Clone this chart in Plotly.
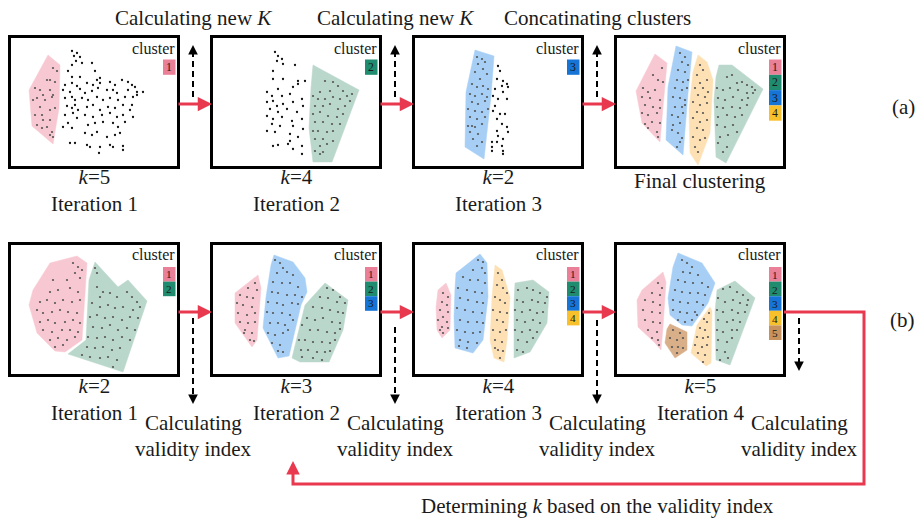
import plotly.graph_objects as go

W, H = 920, 521
SERIF = "Liberation Serif, Times New Roman, Times, DejaVu Serif, serif"

# ---------------- panel geometry (pixels) ----------------
COL_LEFT = [11, 213, 415, 617]
PANEL_W = 166
ROW_TOP = [38, 245]
ROW_H = [128, 129]

CLUSTER_FILL = {1: "#f8c8d2", 2: "#bad7cb", 3: "#a7cff6", 4: "#fde1b4", 5: "#d8af88"}
CLUSTER_KEY = {1: "#ea7f98", 2: "#1f8b6f", 3: "#1574d6", 4: "#f8c12c", 5: "#c8925c"}
RED = "#e8394f"
DOT = "#555555"

# ---------------- data (panel-local coordinates) ----------------
# Row (a), panel 1: k=5, iteration 1
R1P1_PINK_HULL = [(37, 17), (49, 27), (48, 70), (42, 106), (21, 88), (18, 52)]
R1P1_PINK_PTS = [(42, 30), (46, 33), (39, 42), (44, 44), (29, 52), (24, 50), (32, 57), (26, 60), (22, 62),
                 (34, 62), (41, 59), (29, 69), (39, 72), (44, 70), (24, 77), (31, 77), (32, 82), (26, 87),
                 (31, 90), (39, 82), (41, 94), (42, 99), (39, 97), (36, 89), (39, 52), (42, 57), (36, 42)]
R1P1_REST_PTS = [(61, 13), (66, 15), (69, 19), (63, 18), (65, 23), (71, 25), (81, 25), (61, 27), (57, 33),
                 (84, 33), (61, 39), (69, 39), (86, 42), (89, 40), (54, 47), (61, 45), (66, 48), (76, 45),
                 (82, 47), (89, 45), (99, 44), (104, 47), (111, 42), (117, 44), (121, 47), (124, 49),
                 (52, 52), (59, 54), (69, 51), (74, 55), (81, 53), (87, 50), (96, 52), (102, 52), (106, 55),
                 (117, 52), (126, 54), (132, 54), (54, 60), (61, 59), (64, 62), (71, 60), (77, 62), (86, 59),
                 (92, 62), (99, 60), (107, 62), (114, 59), (122, 59), (126, 57), (56, 68), (61, 70), (64, 67),
                 (67, 72), (76, 69), (82, 67), (89, 72), (97, 69), (104, 70), (112, 67), (119, 72), (121, 67),
                 (54, 77), (62, 75), (66, 80), (74, 77), (82, 79), (91, 77), (99, 75), (106, 79), (112, 77),
                 (122, 79), (52, 89), (57, 85), (61, 90), (77, 87), (84, 85), (92, 84), (102, 85), (107, 89),
                 (114, 84), (74, 95), (81, 97), (86, 94), (96, 99), (104, 97), (109, 95), (59, 105), (64, 105),
                 (76, 107), (79, 109), (89, 109), (99, 107), (102, 109), (112, 108), (112, 112), (88, 115)]

# Row (a), panel 2: k=4, iteration 2
R1P2_GREEN_HULL = [(100, 27), (146, 52), (119, 124), (100, 124), (96, 90), (98, 50)]
R1P2_GREEN_PTS = [(112, 43), (120, 44), (125, 48), (130, 53), (117, 53), (107, 54), (100, 58), (105, 61),
                  (112, 61), (120, 59), (127, 61), (134, 58), (139, 56), (102, 68), (110, 68), (117, 66),
                  (125, 71), (132, 68), (137, 63), (100, 76), (107, 74), (115, 78), (124, 79), (130, 76),
                  (102, 84), (110, 84), (119, 86), (127, 86), (105, 93), (114, 94), (120, 93), (102, 101),
                  (110, 101), (107, 108), (114, 106), (120, 103), (102, 113), (110, 114), (107, 116), (100, 93)]
R1P2_REST_PTS = [(62, 14), (65, 18), (69, 21), (64, 23), (70, 26), (82, 27), (60, 33), (85, 43), (60, 41),
                 (70, 41), (80, 49), (85, 46), (92, 43), (54, 54), (59, 58), (65, 51), (69, 58), (77, 56),
                 (89, 61), (54, 64), (60, 63), (64, 68), (70, 66), (80, 64), (90, 68), (57, 71), (65, 74),
                 (74, 71), (84, 74), (54, 78), (60, 81), (69, 79), (79, 83), (89, 81), (59, 86), (67, 88),
                 (80, 88), (90, 91), (54, 93), (62, 94), (77, 96), (85, 99), (77, 103), (60, 108), (65, 107),
                 (75, 106), (89, 108), (89, 116), (80, 111)]

# Row (a), panel 3: k=2, iteration 3
R1P3_BLUE_HULL = [(60, 12), (79, 18), (76, 58), (69, 121), (50, 109), (51, 54)]
R1P3_BLUE_PTS = [(62, 19), (67, 21), (70, 24), (63, 26), (68, 31), (60, 34), (72, 36), (65, 41), (57, 46),
                 (62, 49), (68, 48), (73, 51), (55, 56), (60, 58), (67, 56), (72, 59), (57, 64), (63, 66),
                 (70, 63), (53, 71), (60, 73), (67, 74), (73, 71), (55, 79), (62, 81), (70, 79), (53, 88),
                 (60, 89), (67, 86), (55, 94), (63, 96), (58, 101), (67, 104), (62, 108), (57, 88)]
R1P3_REST_PTS = [(83, 28), (85, 33), (82, 41), (88, 43), (92, 46), (93, 49), (87, 48), (80, 51), (88, 54),
                 (78, 58), (83, 61), (92, 61), (80, 68), (78, 73), (85, 76), (90, 76), (82, 81), (87, 86),
                 (82, 93), (92, 89), (93, 94), (83, 98), (77, 104), (82, 104), (88, 101), (77, 109),
                 (87, 108), (88, 113), (77, 113), (88, 116)]

# Row (a), panel 4: final clustering
R1P4_PINK_HULL = [(38, 16), (50, 25), (46, 69), (43, 104), (25, 85), (19, 53)]
R1P4_PINK_PTS = [(45, 30), (41, 42), (46, 44), (26, 50), (31, 54), (38, 52), (25, 59), (33, 60), (43, 62),
                 (28, 67), (36, 69), (43, 70), (25, 75), (31, 77), (40, 75), (28, 86), (35, 84), (43, 85),
                 (31, 90), (40, 94), (41, 99), (36, 37)]
R1P4_BLUE_HULL = [(59, 8), (75, 14), (71, 55), (66, 117), (49, 102), (51, 49)]
R1P4_BLUE_PTS = [(63, 15), (68, 19), (65, 24), (71, 27), (61, 32), (68, 34), (60, 42), (66, 44), (71, 42),
                 (58, 50), (65, 52), (70, 50), (56, 59), (63, 60), (68, 62), (58, 69), (65, 69), (68, 67),
                 (55, 77), (61, 79), (66, 75), (56, 87), (63, 85), (55, 92), (61, 95), (63, 104), (60, 109),
                 (65, 100)]
R1P4_YELLOW_HULL = [(81, 17), (90, 24), (96, 42), (93, 95), (81, 127), (73, 115), (72, 72), (76, 34)]
R1P4_YELLOW_PTS = [(83, 27), (86, 32), (80, 37), (90, 42), (83, 45), (78, 50), (86, 50), (91, 54), (81, 57),
                   (88, 59), (76, 64), (83, 67), (90, 65), (80, 74), (86, 75), (76, 80), (83, 84), (90, 82),
                   (80, 90), (86, 92), (76, 99), (83, 102), (78, 109), (81, 114), (88, 100)]
R1P4_GREEN_HULL = [(102, 27), (115, 27), (146, 51), (109, 125), (99, 119), (97, 62), (99, 39)]
R1P4_GREEN_PTS = [(110, 39), (115, 37), (120, 45), (125, 44), (130, 47), (135, 49), (138, 52), (100, 50),
                  (106, 52), (113, 50), (121, 52), (130, 55), (136, 55), (101, 60), (108, 62), (116, 59),
                  (125, 62), (131, 60), (100, 69), (106, 70), (115, 69), (123, 70), (130, 67), (101, 79),
                  (110, 77), (118, 79), (125, 77), (100, 87), (108, 89), (116, 87), (103, 99), (111, 97),
                  (120, 94), (101, 105), (110, 109), (106, 114)]

# Row (b), panel 1: k=2
R2P1_PINK_HULL = [(39, 18), (66, 11), (76, 18), (74, 52), (71, 95), (54, 107), (44, 106), (26, 88), (18, 60),
                  (22, 45)]
R2P1_PINK_PTS = [(62, 18), (67, 22), (71, 25), (64, 28), (42, 35), (56, 35), (69, 33), (39, 47), (47, 45),
                 (59, 43), (67, 47), (29, 57), (36, 55), (44, 58), (52, 55), (61, 57), (69, 55), (26, 65),
                 (32, 68), (41, 67), (49, 65), (57, 67), (66, 68), (29, 77), (37, 75), (44, 78), (54, 77),
                 (62, 75), (69, 78), (32, 85), (41, 87), (51, 85), (59, 85), (67, 87), (39, 95), (47, 93),
                 (56, 95), (64, 92), (44, 102), (52, 100)]
R2P1_GREEN_HULL = [(84, 17), (107, 42), (117, 35), (136, 56), (112, 127), (57, 109), (75, 95), (78, 35)]
R2P1_GREEN_PTS = [(86, 42), (92, 47), (89, 52), (99, 48), (106, 52), (116, 47), (121, 52), (126, 57), (81, 58),
                  (89, 62), (97, 60), (104, 63), (112, 62), (122, 65), (129, 62), (79, 72), (86, 70), (94, 73),
                  (102, 72), (111, 75), (119, 72), (127, 73), (82, 82), (91, 83), (99, 80), (107, 85),
                  (116, 83), (124, 85), (77, 92), (86, 93), (94, 92), (102, 95), (111, 92), (119, 95),
                  (76, 102), (84, 103), (92, 102), (101, 105), (109, 103), (71, 110), (79, 112), (89, 113),
                  (97, 112), (106, 115), (102, 122), (86, 28), (84, 23)]

# Row (b), panel 2: k=3
R2P2_PINK_HULL = [(22, 48), (45, 30), (48, 43), (44, 95), (39, 102), (22, 78)]
R2P2_PINK_PTS = [(42, 38), (44, 45), (35, 43), (27, 50), (34, 52), (40, 53), (24, 58), (30, 60), (39, 62),
                 (25, 68), (34, 70), (42, 68), (27, 77), (35, 78), (42, 77), (32, 85), (39, 88), (37, 95),
                 (41, 96), (31, 88)]
R2P2_BLUE_HULL = [(61, 10), (80, 17), (92, 33), (94, 47), (88, 60), (76, 111), (65, 113), (50, 83), (53, 52),
                  (58, 20)]
R2P2_BLUE_PTS = [(62, 15), (67, 18), (70, 23), (64, 28), (74, 27), (80, 30), (60, 37), (69, 38), (77, 38),
                 (85, 42), (59, 47), (65, 48), (74, 50), (82, 50), (89, 52), (55, 57), (64, 58), (70, 60),
                 (79, 58), (85, 59), (54, 67), (60, 68), (69, 68), (77, 70), (57, 78), (65, 78), (72, 80),
                 (80, 75), (55, 88), (62, 90), (70, 88), (75, 85), (59, 98), (67, 100), (65, 106), (70, 107)]
R2P2_GREEN_HULL = [(112, 38), (135, 55), (130, 85), (116, 117), (87, 117), (79, 113), (92, 60)]
R2P2_GREEN_PTS = [(114, 43), (120, 45), (127, 52), (107, 52), (115, 53), (124, 57), (132, 58), (100, 62),
                  (109, 63), (117, 65), (125, 67), (130, 68), (94, 73), (102, 75), (110, 73), (119, 77),
                  (127, 78), (97, 85), (105, 85), (114, 87), (122, 88), (127, 84), (92, 95), (100, 97),
                  (109, 97), (117, 98), (122, 95), (95, 105), (104, 107), (112, 107), (117, 106), (100, 113),
                  (109, 115), (89, 112), (86, 95), (89, 80), (88, 105)]

# Row (b), panel 3: k=4
R2P3_PINK_HULL = [(31, 38), (36, 50), (35, 85), (27, 93), (22, 85), (21, 62), (23, 45)]
R2P3_PINK_PTS = [(28, 48), (33, 52), (27, 57), (32, 60), (25, 65), (33, 67), (28, 72), (23, 75), (32, 77),
                 (27, 82), (33, 83), (28, 88), (25, 85)]
R2P3_BLUE_HULL = [(41, 28), (65, 9), (72, 18), (73, 52), (68, 95), (58, 108), (40, 103), (39, 72), (40, 43)]
R2P3_BLUE_PTS = [(63, 15), (68, 17), (67, 23), (58, 25), (70, 28), (48, 32), (55, 35), (63, 35), (70, 38),
                 (43, 43), (52, 45), (60, 47), (67, 48), (45, 53), (53, 55), (62, 57), (68, 58), (42, 63),
                 (50, 65), (58, 67), (67, 68), (45, 75), (53, 77), (62, 77), (68, 78), (42, 85), (50, 87),
                 (58, 88), (65, 87), (45, 95), (53, 97), (62, 98), (44, 101), (52, 103)]
R2P3_YELLOW_HULL = [(80, 20), (87, 25), (95, 52), (92, 95), (89, 117), (79, 113), (75, 95), (77, 52)]
R2P3_YELLOW_PTS = [(83, 28), (87, 35), (82, 40), (88, 43), (92, 48), (80, 52), (85, 55), (90, 58), (78, 65),
                   (85, 67), (92, 68), (82, 75), (88, 77), (78, 85), (85, 87), (91, 85), (80, 95), (87, 97),
                   (83, 105), (88, 106), (85, 113), (80, 103)]
R2P3_GREEN_HULL = [(100, 38), (118, 35), (134, 47), (132, 78), (115, 107), (99, 113), (99, 58)]
R2P3_GREEN_PTS = [(103, 45), (112, 43), (118, 45), (125, 48), (132, 52), (102, 55), (108, 57), (117, 55),
                  (123, 57), (130, 58), (100, 65), (107, 67), (115, 65), (122, 68), (128, 67), (102, 75),
                  (110, 77), (118, 75), (125, 78), (100, 85), (107, 87), (115, 85), (122, 87), (103, 95),
                  (112, 97), (118, 93), (102, 105), (108, 107)]

# Row (b), panel 4: k=5
R2P4_PINK_HULL = [(46, 27), (49, 37), (46, 82), (44, 105), (38, 98), (21, 82), (20, 55), (25, 45)]
R2P4_PINK_PTS = [(41, 38), (45, 43), (35, 48), (43, 50), (28, 55), (36, 57), (43, 60), (26, 65), (35, 67),
                 (43, 68), (28, 75), (36, 77), (43, 78), (31, 85), (40, 87), (35, 93), (41, 95), (42, 100)]
R2P4_BLUE_HULL = [(61, 8), (85, 18), (98, 38), (91, 58), (75, 81), (65, 80), (53, 70), (51, 53), (56, 22)]
R2P4_BLUE_PTS = [(65, 15), (70, 18), (75, 22), (66, 27), (73, 28), (81, 30), (61, 35), (68, 37), (76, 38),
                 (85, 38), (91, 42), (58, 45), (65, 47), (73, 48), (81, 48), (88, 50), (56, 55), (63, 57),
                 (71, 58), (80, 57), (86, 60), (56, 65), (63, 67), (70, 68), (78, 67), (80, 70), (61, 75),
                 (68, 77), (75, 75)]
R2P4_BROWN_HULL = [(53, 79), (64, 84), (70, 87), (70, 105), (58, 113), (48, 98), (50, 84)]
R2P4_BROWN_PTS = [(56, 85), (63, 88), (53, 93), (60, 95), (66, 93), (55, 102), (61, 102), (66, 103), (60, 108)]
R2P4_YELLOW_HULL = [(93, 62), (95, 66), (94, 118), (89, 121), (74, 108), (80, 80)]
R2P4_YELLOW_PTS = [(92, 68), (87, 74), (90, 77), (83, 83), (88, 85), (80, 92), (86, 93), (91, 92), (78, 100),
                   (85, 102), (90, 100), (81, 108), (88, 110), (86, 117)]
R2P4_GREEN_HULL = [(100, 45), (118, 36), (138, 53), (113, 120), (99, 115), (98, 67)]
R2P4_GREEN_PTS = [(106, 44), (113, 42), (120, 47), (126, 50), (131, 55), (101, 53), (108, 57), (116, 55),
                  (123, 58), (130, 60), (100, 65), (106, 67), (115, 65), (121, 68), (128, 67), (101, 75),
                  (110, 77), (116, 75), (123, 77), (100, 85), (106, 87), (115, 85), (120, 85), (101, 95),
                  (110, 97), (115, 93), (100, 105), (108, 107), (103, 115), (111, 113)]

# captions
ROW1_K = ["5", "4", "2", None]
ROW1_ITER = ["Iteration 1", "Iteration 2", "Iteration 3", "Final clustering"]
ROW2_K = ["2", "3", "4", "5"]
ROW2_ITER = ["Iteration 1", "Iteration 2", "Iteration 3", "Iteration 4"]
TOP_LABELS = ["Calculating new <i>K</i>", "Calculating new <i>K</i>", "Concatinating clusters"]
VALIDITY_LINES = ["Calculating", "validity index"]
FEEDBACK_LABEL = "Determining <i>k</i> based on the validity index"

# panel table built from the arrays above
PANELS = [
    (0, 0, [(1, R1P1_PINK_HULL, R1P1_PINK_PTS)], R1P1_REST_PTS, [1]),
    (0, 1, [(2, R1P2_GREEN_HULL, R1P2_GREEN_PTS)], R1P2_REST_PTS, [2]),
    (0, 2, [(3, R1P3_BLUE_HULL, R1P3_BLUE_PTS)], R1P3_REST_PTS, [3]),
    (0, 3, [(1, R1P4_PINK_HULL, R1P4_PINK_PTS), (3, R1P4_BLUE_HULL, R1P4_BLUE_PTS),
            (4, R1P4_YELLOW_HULL, R1P4_YELLOW_PTS), (2, R1P4_GREEN_HULL, R1P4_GREEN_PTS)], [], [1, 2, 3, 4]),
    (1, 0, [(1, R2P1_PINK_HULL, R2P1_PINK_PTS), (2, R2P1_GREEN_HULL, R2P1_GREEN_PTS)], [], [1, 2]),
    (1, 1, [(1, R2P2_PINK_HULL, R2P2_PINK_PTS), (3, R2P2_BLUE_HULL, R2P2_BLUE_PTS),
            (2, R2P2_GREEN_HULL, R2P2_GREEN_PTS)], [], [1, 2, 3]),
    (1, 2, [(1, R2P3_PINK_HULL, R2P3_PINK_PTS), (3, R2P3_BLUE_HULL, R2P3_BLUE_PTS),
            (4, R2P3_YELLOW_HULL, R2P3_YELLOW_PTS), (2, R2P3_GREEN_HULL, R2P3_GREEN_PTS)], [], [1, 2, 3, 4]),
    (1, 3, [(1, R2P4_PINK_HULL, R2P4_PINK_PTS), (3, R2P4_BLUE_HULL, R2P4_BLUE_PTS),
            (5, R2P4_BROWN_HULL, R2P4_BROWN_PTS), (4, R2P4_YELLOW_HULL, R2P4_YELLOW_PTS),
            (2, R2P4_GREEN_HULL, R2P4_GREEN_PTS)], [], [1, 2, 3, 4, 5]),
]


def px(x):
    return x / W


def py(y):
    return 1 - y / H


fig = go.Figure()
shapes = []
annotations = []


def txt(x, y, text, size=21, xanchor="center", xref="paper", yref="paper", color="#1a1a1a"):
    annotations.append(dict(x=x, y=y, xref=xref, yref=yref, text=text, showarrow=False,
                            xanchor=xanchor, yanchor="middle", borderpad=0,
                            font=dict(family=SERIF, size=size, color=color)))


for n, (row, col, clusters, rest, legend_ids) in enumerate(PANELS, start=1):
    xa = "x" if n == 1 else f"x{n}"
    ya = "y" if n == 1 else f"y{n}"
    left = COL_LEFT[col]
    top = ROW_TOP[row]
    h = ROW_H[row]
    for cid, hull, pts in clusters:
        fig.add_trace(go.Scatter(
            x=[p[0] for p in hull] + [hull[0][0]], y=[p[1] for p in hull] + [hull[0][1]],
            mode="lines", fill="toself", fillcolor=CLUSTER_FILL[cid],
            line=dict(width=0.5, color=CLUSTER_FILL[cid]), hoverinfo="skip", showlegend=False,
            xaxis=xa, yaxis=ya))
    for cid, hull, pts in clusters:
        fig.add_trace(go.Scatter(
            x=[p[0] for p in pts], y=[p[1] for p in pts], mode="markers",
            marker=dict(size=2.2, color=DOT), hoverinfo="skip", showlegend=False,
            xaxis=xa, yaxis=ya))
    if rest:
        fig.add_trace(go.Scatter(
            x=[p[0] for p in rest], y=[p[1] for p in rest], mode="markers",
            marker=dict(size=2.3, color="#111111"), hoverinfo="skip", showlegend=False,
            xaxis=xa, yaxis=ya))

    ax_common = dict(showline=True, mirror=True, linecolor="black", linewidth=2.5, showgrid=False,
                     zeroline=False, showticklabels=False, ticks="", fixedrange=True)
    xkey = "xaxis" if n == 1 else f"xaxis{n}"
    ykey = "yaxis" if n == 1 else f"yaxis{n}"
    fig.update_layout(**{
        xkey: dict(domain=[px(left), px(left + PANEL_W)], range=[0, PANEL_W], anchor=ya, **ax_common),
        ykey: dict(domain=[py(top + h), py(top)], range=[h, 0], anchor=xa, **ax_common),
    })

    # cluster key
    txt(PANEL_W - 1, 10, "cluster", size=16, xanchor="right", xref=xa, yref=ya)
    y0 = 21.5 if row == 0 else 22
    sh = 15.3 if row == 0 else 14.6
    for i, cid in enumerate(legend_ids):
        ya0 = y0 + i * sh
        shapes.append(dict(type="rect", xref=xa, yref=ya, x0=152, x1=164.5, y0=ya0, y1=ya0 + sh,
                           fillcolor=CLUSTER_KEY[cid], line=dict(width=0), layer="above"))
    # numbers written as one stacked text so they fill the key column
    nums = "<br>".join(str(cid) for cid in legend_ids)
    annotations.append(dict(x=158.3, y=y0 + len(legend_ids) * sh / 2, xref=xa, yref=ya, text=nums,
                            showarrow=False, xanchor="center", yanchor="middle", borderpad=0,
                            font=dict(family=SERIF, size=sh / 1.3, color="#1a1a1a")))

# ---------------- captions ----------------
for col in range(4):
    cx = COL_LEFT[col] + PANEL_W / 2
    if ROW1_K[col] is not None:
        txt(px(cx), py(190), f"<i>k</i>={ROW1_K[col]}<br>{ROW1_ITER[col]}")
    else:
        txt(px(cx), py(181), ROW1_ITER[col])
    txt(px(cx), py(399), f"<i>k</i>={ROW2_K[col]}<br>{ROW2_ITER[col]}")

gap_mid = [(COL_LEFT[c] + PANEL_W + COL_LEFT[c + 1]) / 2 - 2 for c in range(3)]
for c, lab in enumerate(TOP_LABELS):
    txt(px(gap_mid[c]), py(18), lab)

valid_x = gap_mid + [799]
for c in range(4):
    txt(px(valid_x[c]), py(423), VALIDITY_LINES[0])
    txt(px(valid_x[c]), py(449), VALIDITY_LINES[1])

txt(px(597), py(506), FEEDBACK_LABEL)
txt(px(903), py(107), "(a)")
txt(px(902), py(320), "(b)")

# ---------------- arrows ----------------
ROW_ARROW_Y = [104, 312]
for r in range(2):
    for c in range(3):
        tail = COL_LEFT[c] + PANEL_W
        tip = COL_LEFT[c + 1] - 1
        annotations.append(dict(x=px(tip), y=py(ROW_ARROW_Y[r]), xref="paper", yref="paper",
                                ax=-(tip - tail), ay=0, text="", showarrow=True, arrowhead=2,
                                arrowsize=0.95, arrowwidth=3, arrowcolor=RED))

DASH = "6px,4px"
# upward dashed arrows (row a)
for c in range(3):
    x = gap_mid[c]
    shapes.append(dict(type="line", xref="paper", yref="paper", x0=px(x), x1=px(x), y0=py(97), y1=py(52),
                       line=dict(color="black", width=2, dash=DASH)))
    annotations.append(dict(x=px(x), y=py(45), xref="paper", yref="paper", ax=0, ay=8, text="",
                            showarrow=True, arrowhead=2, arrowsize=1.2, arrowwidth=1.6, arrowcolor="black"))
# downward dashed arrows (row b)
DOWN_START = [318, 327, 320, 318]
DOWN_TIP = [404, 404, 404, 371]
for c in range(4):
    x = valid_x[c]
    shapes.append(dict(type="line", xref="paper", yref="paper", x0=px(x), x1=px(x),
                       y0=py(DOWN_START[c]), y1=py(DOWN_TIP[c] - 7),
                       line=dict(color="black", width=2, dash=DASH)))
    annotations.append(dict(x=px(x), y=py(DOWN_TIP[c]), xref="paper", yref="paper", ax=0, ay=-8, text="",
                            showarrow=True, arrowhead=2, arrowsize=1.2, arrowwidth=1.6, arrowcolor="black"))

# feedback loop
p4_right = COL_LEFT[3] + PANEL_W
loop = [(p4_right + 1, 312), (864, 312), (864, 484), (293, 484), (293, 470)]
path = "M " + " L ".join(f"{px(x)},{py(y)}" for x, y in loop)
shapes.append(dict(type="path", xref="paper", yref="paper", path=path, line=dict(color=RED, width=3)))
annotations.append(dict(x=px(293), y=py(461), xref="paper", yref="paper", ax=0, ay=12, text="",
                        showarrow=True, arrowhead=2, arrowsize=0.9, arrowwidth=3, arrowcolor=RED))

fig.update_layout(
    width=W, height=H, margin=dict(l=0, r=0, t=0, b=0),
    paper_bgcolor="white", plot_bgcolor="white",
    shapes=shapes, annotations=annotations, showlegend=False,
    font=dict(family=SERIF, color="#1a1a1a"),
)

fig.write_html("out.html")
